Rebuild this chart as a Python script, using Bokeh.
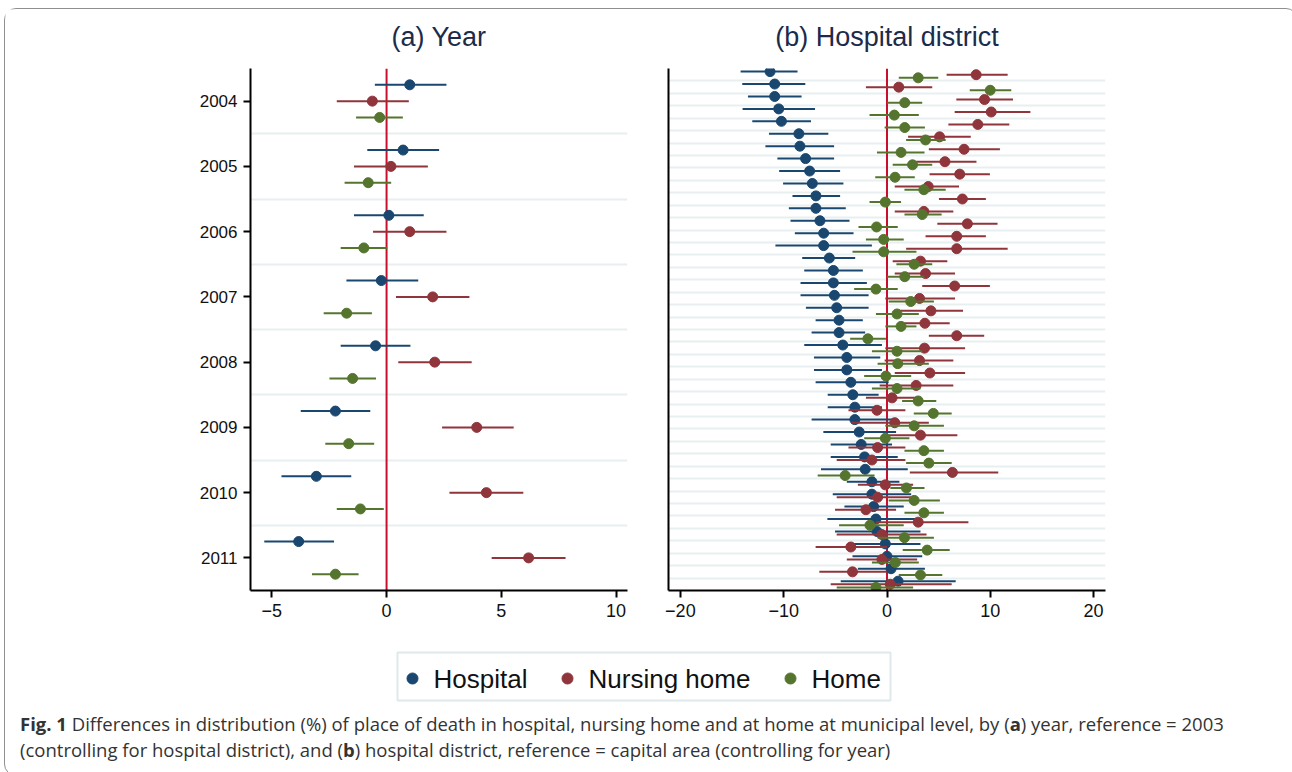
from bokeh.plotting import figure
from bokeh.models import Range1d, FixedTicker, Span, ColumnDataSource, Div
from bokeh.layouts import column, row
from bokeh.embed import file_html
from bokeh.resources import INLINE
from bokeh.core.properties import value

# ---------------- data: panel (a) year ----------------
years = ["2004", "2005", "2006", "2007", "2008", "2009", "2010", "2011"]
hosp_a = [1.01, 0.72, 0.10, -0.23, -0.48, -2.23, -3.06, -3.83]
hosp_a_lo = [-0.51, -0.84, -1.42, -1.75, -2.00, -3.74, -4.58, -5.33]
hosp_a_hi = [2.61, 2.29, 1.62, 1.38, 1.04, -0.71, -1.54, -2.29]
nurs_a = [-0.62, 0.19, 1.01, 2.01, 2.10, 3.93, 4.35, 6.19]
nurs_a_lo = [-2.17, -1.42, -0.59, 0.41, 0.51, 2.42, 2.74, 4.58]
nurs_a_hi = [0.97, 1.80, 2.61, 3.61, 3.71, 5.54, 5.96, 7.80]
home_a = [-0.30, -0.80, -0.99, -1.74, -1.48, -1.65, -1.14, -2.23]
home_a_lo = [-1.33, -1.83, -2.00, -2.74, -2.49, -2.67, -2.17, -3.25]
home_a_hi = [0.71, 0.20, 0.03, -0.64, -0.46, -0.54, -0.12, -1.22]
xticks_a = [-5, 0, 5, 10]

# ---------------- data: panel (b) hospital district ----------------
hosp_b = [-11.32, -10.87, -10.87, -10.48, -10.22, -8.53, -8.43, -7.88, -7.49, -7.23,
          -6.88, -6.88, -6.49, -6.13, -6.13, -5.58, -5.19, -5.19, -5.09, -4.87,
          -4.64, -4.64, -4.28, -3.89, -3.89, -3.50, -3.31, -3.11, -3.11, -2.69,
          -2.50, -2.17, -2.11, -1.46, -1.46, -1.30, -1.07, -0.97, -0.16, 0.00,
          0.39, 1.07]
hosp_b_lo = [-14.17, -14.01, -13.46, -13.98, -13.04, -11.42, -11.77, -10.61, -10.44, -10.06,
             -9.15, -9.50, -9.34, -8.92, -10.80, -8.21, -8.01, -8.37, -8.37, -7.85,
             -6.91, -7.30, -8.01, -7.07, -7.07, -6.91, -5.74, -5.74, -7.30, -6.16,
             -5.45, -5.45, -6.39, -3.89, -5.25, -4.12, -5.77, -5.03, -3.57, -3.34,
             -2.82, -4.48]
hosp_b_hi = [-8.66, -7.91, -8.27, -6.97, -7.36, -5.68, -5.12, -5.12, -4.54, -4.22,
             -4.54, -3.99, -3.63, -3.24, -1.46, -3.08, -2.34, -1.95, -1.78, -1.78,
             -2.34, -2.11, -0.49, -0.65, -0.49, 0.16, -0.81, -0.49, 0.81, 0.88,
             0.49, 1.04, 2.01, 1.20, 2.34, 1.62, 2.76, 3.24, 3.24, 3.41,
             3.67, 6.65]
nurs_b = [8.63, 1.14, 9.44, 10.09, 8.79, 5.09, 7.46, 5.61, 7.04, 3.99,
          7.30, 3.57, 7.78, 6.75, 6.75, 3.24, 3.73, 6.55, 3.15, 4.25,
          3.67, 6.75, 3.63, 3.15, 4.15, 2.82, 0.49, -0.97, 0.75, 3.24,
          -0.91, -1.46, 6.33, -0.16, -0.91, -2.04, 3.02, -0.49, -3.50, -0.49,
          -3.34, 0.32]
nurs_b_lo = [5.77, -2.04, 6.71, 6.55, 5.94, 2.04, 4.05, 2.82, 4.12, 0.75,
             5.03, 0.75, 4.87, 3.73, 1.85, 0.55, 0.75, 3.41, -0.16, 1.14,
             1.14, 4.05, -0.16, -0.23, 0.75, -0.71, -2.04, -3.73, -3.47, 0.16,
             -3.73, -4.87, 2.21, -2.82, -4.87, -5.03, -1.07, -4.87, -6.91, -3.89,
             -6.55, -5.45]
nurs_b_hi = [11.68, 4.38, 12.20, 13.88, 11.84, 8.11, 10.93, 8.66, 9.96, 6.97,
             9.57, 6.42, 10.70, 9.57, 11.68, 5.84, 6.58, 9.96, 6.58, 7.36,
             6.07, 9.41, 7.56, 6.42, 7.56, 6.42, 3.02, 1.78, 4.05, 6.81,
             1.78, 1.78, 10.77, 2.53, 2.34, 0.88, 7.88, 3.83, 0.00, 2.92,
             0.00, 6.26]
home_b = [3.02, 9.99, 1.72, 0.71, 1.72, 3.73, 1.36, 2.47, 0.78, 3.57,
          -0.16, 3.41, -1.01, -0.32, -0.32, 2.63, 1.72, -1.07, 2.30, 0.97,
          1.36, -1.85, 0.97, 1.04, -0.10, 0.97, 3.02, 4.48, 2.63, -0.16,
          3.57, 4.05, -4.05, 1.88, 2.63, 3.57, -1.65, 1.69, 3.89, 0.81,
          3.24, -1.07]
home_b_lo = [1.14, 8.01, 0.00, -1.69, -0.23, 1.85, -0.97, 0.55, -1.14, 1.69,
             -1.69, 1.69, -2.76, -2.04, -3.34, 0.91, 0.00, -3.18, 0.16, -1.07,
             -0.16, -3.57, -1.46, -0.91, -2.21, -1.46, 1.46, 2.59, -0.16, -2.21,
             1.69, 1.85, -6.71, 0.32, 0.16, 1.69, -4.64, -0.91, 1.52, -1.46,
             1.14, -4.87]
home_b_hi = [4.96, 12.03, 3.41, 3.08, 3.67, 5.68, 3.63, 4.38, 2.69, 5.68,
             1.36, 5.29, 1.04, 1.62, 2.85, 4.38, 3.63, 1.04, 4.54, 3.08,
             2.85, -0.10, 3.41, 4.05, 2.34, 3.24, 4.77, 6.26, 5.51, 2.17,
             5.51, 6.26, -1.20, 3.63, 5.12, 5.51, 1.62, 4.54, 6.07, 3.08,
             5.35, 2.53]
xticks_b = [-20, -10, 0, 10, 20]

panel_titles = ["(a) Year", "(b) Hospital district"]
series_names = ["Hospital", "Nursing home", "Home"]

BLUE, RED, GREEN = "#1a476f", "#90353b", "#55752f"
REFLINE = "#c8102e"
GRID = "#e7eff1"
FONT = "Liberation Sans"
TITLE_COLOR = "#1c2b4a"

W = 1282          # inner width of the bordered figure
TOP = 55          # height of the title strip


def strip(h):
    s = figure(frame_width=W, frame_height=h, x_range=Range1d(0, W),
               y_range=Range1d(h, 0), output_backend="svg", toolbar_location=None,
               x_axis_type=None, y_axis_type=None, min_border=0)
    s.outline_line_color = None
    s.grid.visible = False
    s.background_fill_color = "white"
    s.border_fill_color = "white"
    return s


def base_fig(xr, yr, fw, fh, left, right):
    p = figure(frame_width=fw, frame_height=fh, x_range=xr, y_range=yr,
               output_backend="svg", toolbar_location=None,
               min_border_left=left, min_border_right=right,
               min_border_top=4, min_border_bottom=50)
    p.outline_line_color = None
    p.background_fill_color = "white"
    p.border_fill_color = "white"
    p.xgrid.visible = False
    p.ygrid.grid_line_color = GRID
    p.ygrid.grid_line_width = 2
    for ax in (p.xaxis, p.yaxis):
        ax.axis_line_color = "black"
        ax.axis_line_width = 2
        ax.major_tick_line_color = "black"
        ax.major_tick_line_width = 2
        ax.major_tick_out = 7
        ax.major_tick_in = 0
        ax.minor_tick_line_color = None
        ax.major_label_text_font = FONT
        ax.major_label_text_font_size = "18px"
        ax.major_label_text_color = "#111111"
    p.yaxis.major_label_text_font_size = "17px"
    p.xaxis.major_label_standoff = 6
    p.yaxis.major_label_standoff = 6
    return p


def draw(p, est, lo, hi, off, color, size):
    ys = [i + 1 + off for i in range(len(est))]
    src = ColumnDataSource(dict(x=est, lo=lo, hi=hi, y=ys))
    p.segment(x0="lo", x1="hi", y0="y", y1="y", source=src,
              line_color=color, line_width=2)
    p.scatter(x="x", y="y", source=src, size=size,
              fill_color=color, line_color=color)


# ---------------- title strip ----------------
tt = strip(TOP)
tt.text(x=[433.5, 881.5], y=[27, 27], text=panel_titles, text_font=value(FONT),
        text_font_size="27px", text_align="center", text_baseline="middle",
        text_color=TITLE_COLOR)

# ---------------- panel (a) ----------------
na = len(years)
pa = base_fig(Range1d(-5.93, 10.50), Range1d(na + 0.5, 0.5), 377, 522, 245, 23)
pa.ygrid.ticker = FixedTicker(ticks=[i + 1.5 for i in range(na - 1)])
pa.xaxis.ticker = FixedTicker(ticks=xticks_a)
pa.yaxis.ticker = FixedTicker(ticks=[i + 1 for i in range(na)])
pa.yaxis.major_label_overrides = {i + 1: y for i, y in enumerate(years)}
pa.add_layout(Span(location=0, dimension="height", line_color=REFLINE,
                   line_width=2, level="underlay"))
draw(pa, hosp_a, hosp_a_lo, hosp_a_hi, -0.25, BLUE, 10)
draw(pa, nurs_a, nurs_a_lo, nurs_a_hi, 0.0, RED, 10)
draw(pa, home_a, home_a_lo, home_a_hi, 0.25, GREEN, 10)

# ---------------- panel (b) ----------------
nb = len(hosp_b)
pb = base_fig(Range1d(-21.15, 21.15), Range1d(nb + 0.5, 0.5), 437, 522, 18, 182)
pb.ygrid.ticker = FixedTicker(ticks=[i + 1.5 for i in range(nb - 1)])
pb.xaxis.ticker = FixedTicker(ticks=xticks_b)
pb.yaxis.ticker = FixedTicker(ticks=[])
pb.add_layout(Span(location=0, dimension="height", line_color=REFLINE,
                   line_width=2, level="underlay"))
draw(pb, hosp_b, hosp_b_lo, hosp_b_hi, -0.25, BLUE, 10)
draw(pb, nurs_b, nurs_b_lo, nurs_b_hi, 0.0, RED, 10)
draw(pb, home_b, home_b_lo, home_b_hi, 0.25, GREEN, 10)

# ---------------- legend strip ----------------
leg = strip(72)
leg.quad(left=[392], right=[885], top=[12], bottom=[60], fill_color="white",
         line_color="#dfe8ea", line_width=2)
leg_x = [407, 562, 785]
leg.scatter(x=leg_x, y=[38, 38, 38], size=11, fill_color=[BLUE, RED, GREEN],
            line_color=[BLUE, RED, GREEN])
leg.text(x=[v + 21 for v in leg_x], y=[38, 38, 38], text=series_names,
         text_font=value(FONT), text_font_size="26px", text_baseline="middle",
         text_align="left", text_color="#111111")

# ---------------- caption ----------------
caption = ("<b>Fig. 1</b> Differences in distribution (%) of place of death in hospital, "
           "nursing home and at home at municipal level, by (<b>a</b>) year, reference = 2003<br>"
           "(controlling for hospital district), and (<b>b</b>) hospital district, "
           "reference = capital area (controlling for year)")
cap = Div(text=("<div style=\"font-family:'Open Sans';font-size:18.5px;line-height:26px;"
                "color:#333;padding-left:10px;white-space:nowrap;position:relative;top:-6px;\">"
                + caption + "</div>"),
          width=W, height=53)

layout = column(tt, row(pa, pb), leg, cap, margin=(8, 0, 0, 4),
                styles={"border": "1px solid #8f8f8f", "border-radius": "12px",
                        "background-color": "white"})

open("out.html", "w").write(file_html(layout, INLINE))
